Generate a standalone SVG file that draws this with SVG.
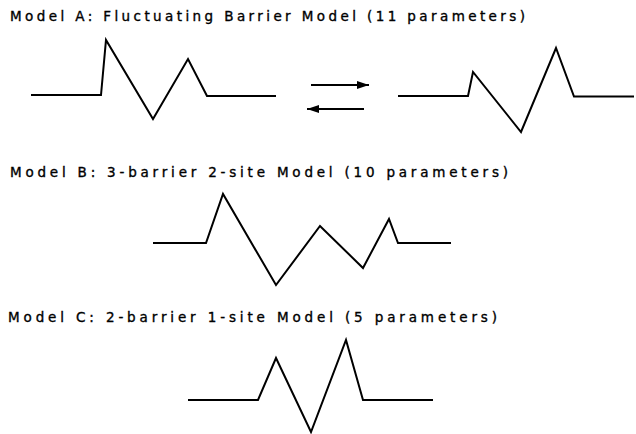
<svg xmlns="http://www.w3.org/2000/svg" width="636" height="434" viewBox="0 0 636 434">
<style>
.t{font-family:"DejaVu Sans","Liberation Sans",sans-serif;font-size:13.5px;fill:#000;stroke:#000;stroke-width:0.35}
.p{fill:none;stroke:#000;stroke-width:2;stroke-linejoin:miter}
.a{stroke:#000;stroke-width:2}
</style>
<defs>
<marker id="ah" viewBox="0 0 12 8" refX="12" refY="4" markerWidth="12" markerHeight="8" markerUnits="userSpaceOnUse" orient="auto">
<path d="M0,0 L12,4 L0,8 Z" fill="#000"/>
</marker>
</defs>
<rect width="636" height="434" fill="#fff"/>
<g id="title-a"><text class="t" x="10" y="21" textLength="515" lengthAdjust="spacing">Model A: Fluctuating Barrier Model (11 parameters)</text></g>
<g id="profile-a1"><polyline class="p" points="31,95 101,95 106,40 153,119 188,59 207,96 276,96"/></g>
<g id="profile-a2"><polyline class="p" points="398,96 468,96 473,72 521,132 556,48 574,96.5 634,96.5"/></g>
<g id="connectors">
<line class="a" x1="311" y1="85" x2="369" y2="85" marker-end="url(#ah)"/>
<line class="a" x1="364" y1="109" x2="307" y2="109" marker-end="url(#ah)"/>
</g>
<g id="title-b"><text class="t" x="10" y="177" textLength="498" lengthAdjust="spacing">Model B: 3-barrier 2-site Model (10 parameters)</text></g>
<g id="profile-b"><polyline class="p" points="153,243 206,243 223,194 276,285 320,226 363,268 389,219 398,243 451,243"/></g>
<g id="title-c"><text class="t" x="8" y="322" textLength="489" lengthAdjust="spacing">Model C: 2-barrier 1-site Model (5 parameters)</text></g>
<g id="profile-c"><polyline class="p" points="188,400 258,400 276,358 311,432 346,340 363,400 433,400"/></g>
</svg>
